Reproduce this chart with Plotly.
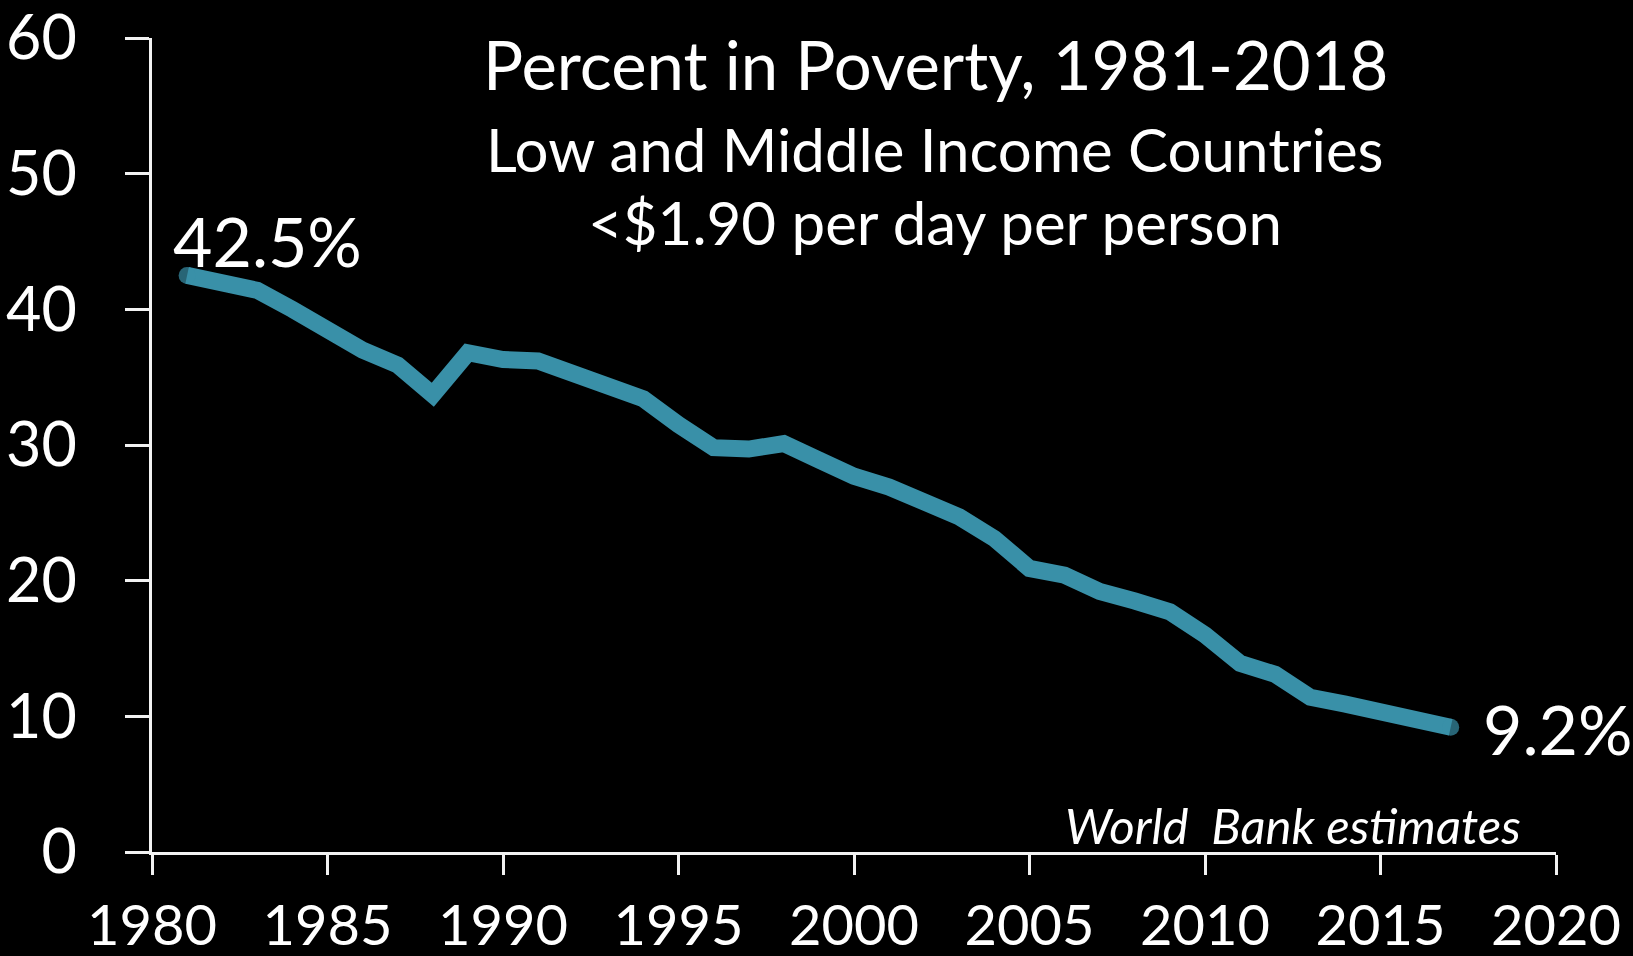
import plotly.graph_objects as go

# Share of population below $1.90/day, low and middle income countries
years = list(range(1981, 2018))
poverty_pct = [
    42.5, 42.1, 41.4, 40.0, 38.4, 37.0, 35.9, 33.7, 36.8, 36.3,
    36.2, 35.3, 34.6, 33.4, 31.5, 29.8, 29.7, 30.1, 28.9, 27.7,
    26.9, 25.7, 24.7, 23.1, 20.9, 20.4, 19.2, 18.5, 17.7, 16.0,
    13.9, 13.1, 11.4, 10.9, 10.3, 9.8, 9.2,
]
x_ticks = [1980, 1985, 1990, 1995, 2000, 2005, 2010, 2015, 2020]
y_ticks = [0, 10, 20, 30, 40, 50, 60]

title_lines = [
    "Percent in Poverty, 1981-2018",
    "Low and Middle Income Countries",
    "<$1.90 per day per person",
]
source_note = "World  Bank estimates"

LINE_COLOR = "#3990A8"
LINE_W = 17
FONT = "Lato"
W, H = 1633, 956
M_L, M_R, M_T, M_B = 152, 77, 38, 104

fig = go.Figure()

# main series; markers only on the end points give the rounded caps
marker_sizes = [LINE_W if i in (0, len(years) - 1) else 0 for i in range(len(years))]
fig.add_trace(go.Scatter(
    x=years, y=poverty_pct, mode="lines+markers",
    line=dict(color=LINE_COLOR, width=LINE_W),
    marker=dict(color=LINE_COLOR, size=marker_sizes, line=dict(width=0)),
    hoverinfo="x+y", showlegend=False, cliponaxis=False,
))

axis_common = dict(
    showline=True, linewidth=3, linecolor="#f2f2f2",
    ticks="outside", tickwidth=3, tickcolor="#f2f2f2",
    showgrid=False, zeroline=False, automargin=False,
    ticklabeloverflow="allow",
)
fig.update_xaxes(
    range=[1980, 2020], tickvals=x_ticks, ticklen=20,
    tickfont=dict(family=FONT, size=56, color="white"),
    ticklabelstandoff=3,
    **axis_common,
)
fig.update_yaxes(
    range=[0, 60], tickvals=y_ticks, ticklen=24,
    tickfont=dict(family=FONT, size=61, color="white"),
    ticklabelstandoff=36,
    **axis_common,
)

# end-point labels
fig.add_annotation(
    x=years[0], y=poverty_pct[0], xref="x", yref="y",
    text=f"{poverty_pct[0]:.1f}%", showarrow=False,
    xanchor="left", yanchor="bottom", xshift=-16, yshift=-8,
    font=dict(family=FONT, size=68, color="white"),
)
fig.add_annotation(
    x=years[-1], y=poverty_pct[-1], xref="x", yref="y",
    text=f"{poverty_pct[-1]:.1f}%", showarrow=False,
    xanchor="left", yanchor="middle", xshift=30, yshift=-1,
    font=dict(family=FONT, size=68, color="white"),
)

# title block
title_sizes = [67, 60, 60]
title_y = [64, 149, 222]
for txt, sz, yc in zip(title_lines, title_sizes, title_y):
    fig.add_annotation(
        x=935, y=H - yc, xref="paper", yref="paper",
        text=txt, showarrow=False, xanchor="center", yanchor="middle",
        font=dict(family=FONT, size=sz, color="white"),
    )

# source note
fig.add_annotation(
    x=1523, y=H - 825, xref="paper", yref="paper",
    text=f"<i>{source_note}</i>", showarrow=False,
    xanchor="right", yanchor="middle",
    font=dict(family=FONT, size=49, color="white"),
)

# paper coordinates above are given in pixels; convert to fractions
for ann in fig.layout.annotations:
    if ann.xref == "paper":
        ann.x = (ann.x - M_L) / (W - M_L - M_R)
        ann.y = (ann.y - M_B) / (H - M_T - M_B)

fig.update_layout(
    width=W, height=H,
    margin=dict(l=M_L, r=M_R, t=M_T, b=M_B),
    paper_bgcolor="black", plot_bgcolor="black",
    font=dict(family=FONT, color="white"),
)

fig.write_html("out.html")
